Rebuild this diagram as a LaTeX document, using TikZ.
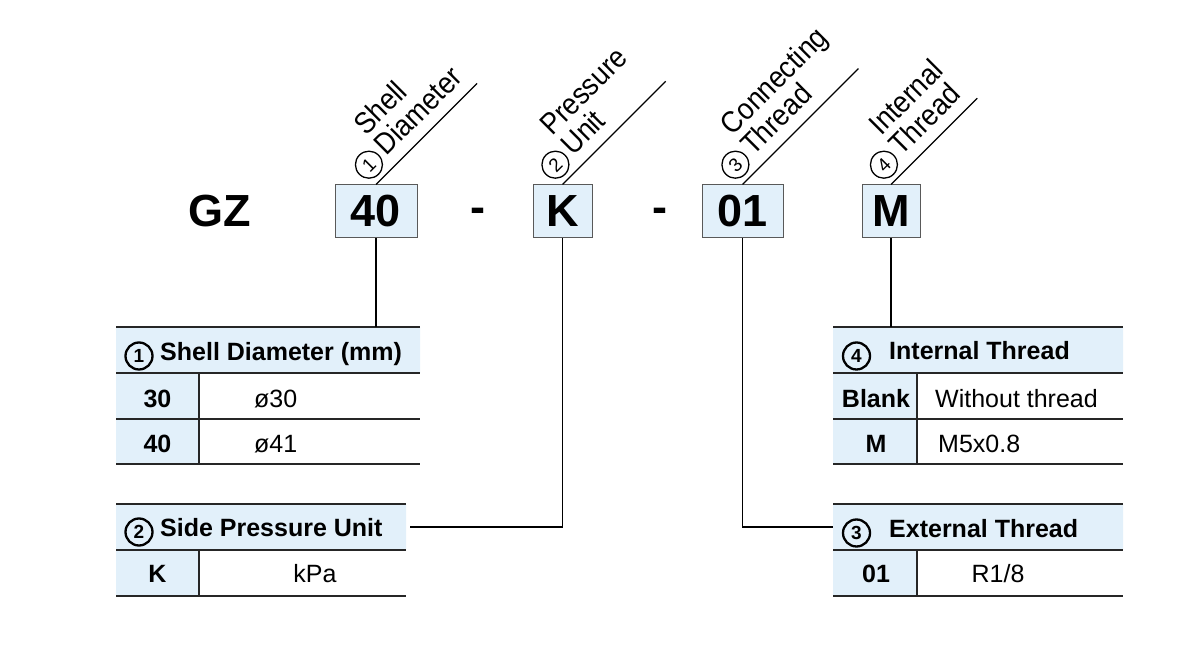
\documentclass[tikz,border=0pt]{standalone}
\usepackage{fontspec}
\setmainfont{Liberation Sans}
\newfontfamily\narrowfont[FakeStretch=0.9]{Liberation Sans}
\usetikzlibrary{positioning}
\definecolor{cellblue}{RGB}{226,240,250}

\begin{document}
\begin{tikzpicture}[x=1pt, y=1pt,
    code/.style={draw=black!65, fill=cellblue, line width=1pt, minimum height=53pt, inner sep=0pt, font=\fontsize{45}{45}\selectfont\bfseries},
    sep/.style={inner sep=0pt, font=\fontsize{45}{45}\selectfont\bfseries},
    lbl/.style={anchor=base west, inner sep=0pt, font=\narrowfont\fontsize{30}{30}\selectfont},
    cnum/.style={circle, draw, line width=1.3pt, minimum size=27pt, inner sep=0pt, font=\fontsize{19}{19}\selectfont},
    cnumb/.style={cnum, line width=2.3pt, font=\fontsize{19}{19}\selectfont\bfseries},
    lead/.style={line width=1.3pt},
    rule/.style={line width=1.5pt, black!85},
    head/.style={anchor=base west, inner sep=0pt, font=\fontsize{25}{25}\selectfont\bfseries},
    key/.style={anchor=base, inner sep=0pt, font=\fontsize{25}{25}\selectfont\bfseries},
    val/.style={anchor=base west, inner sep=0pt, font=\fontsize{25}{25}\selectfont}]

  \useasboundingbox (0,0) rectangle (1200,650);

  \node[sep] (gz) at (220,438.5) {GZ};
  \node[code, minimum width=82pt] (c40) at (376,438.5) {40};
  \node[sep] (s1) at (478,435) {-};
  \node[code, minimum width=59pt] (cK) at (562.5,438.5) {K};
  \node[sep] (s2) at (660,435) {-};
  \node[code, minimum width=81pt] (c01) at (742.5,438.5) {01};
  \node[code, minimum width=58pt] (cM) at (891,438.5) {M};

  \foreach \n/\l in {c40/143, cK/146, c01/164, cM/122}
    \draw[lead] (\n.north) -- ++(45:\l);

  \foreach \n/\d/\a/\b in {c40/1/Shell/Diameter, cK/2/Pressure/Unit, c01/3/Connecting/Thread, cM/4/Internal/Thread}
  {
    \begin{scope}[shift={(\n.north)}, rotate=45, transform shape]
      \node[cnum] (n\d) at (9,19) {\d};
      \node[lbl] (lb\d) at (27,12) {\b};
      \node[lbl] (la\d) at (27,41) {\a};
    \end{scope}
  }

  % shell diameter
  \fill[cellblue] (116,277) rectangle (420,323) (116,186) rectangle (199,277);
  \foreach \y in {323,277,231,186}
    \draw[rule] (116,\y) -- (420,\y);
  \draw[rule] (199,277) -- (199,186);
  \node[cnumb] (m1) at (139,294) {1};
  \node[head] (h1) at (160,289) {Shell Diameter (mm)};
  \node[key] (k30) at (157.5,242.5) {30};
  \node[val] (v30) at (254,242.5) {ø30};
  \node[key] (k40) at (157.5,197.5) {40};
  \node[val] (v41) at (254,197.5) {ø41};

  % side pressure unit
  \fill[cellblue] (116,100) rectangle (406,146) (116,54) rectangle (199,100);
  \foreach \y in {146,100,54}
    \draw[rule] (116,\y) -- (406,\y);
  \draw[rule] (199,100) -- (199,54);
  \node[cnumb] (m2) at (139,118) {2};
  \node[head] (h2) at (160,113) {Side Pressure Unit};
  \node[key] (kK) at (157.5,67) {K};
  \node[val, anchor=base] (vkPa) at (315,67) {kPa};

  % internal thread
  \fill[cellblue] (833,277) rectangle (1123,323) (833,186) rectangle (917,277);
  \foreach \y in {323,277,231,186}
    \draw[rule] (833,\y) -- (1123,\y);
  \draw[rule] (917,277) -- (917,186);
  \node[cnumb] (m4) at (856.5,294) {4};
  \node[head] (h4) at (889,290) {Internal Thread};
  \node[key] (kBlank) at (876,242.5) {Blank};
  \node[val] (vBlank) at (935,242.5) {Without thread};
  \node[key] (kM) at (876,197.5) {M};
  \node[val] (vM) at (938,197.5) {M5x0.8};

  % external thread
  \fill[cellblue] (833,100) rectangle (1123,146) (833,54) rectangle (917,100);
  \foreach \y in {146,100,54}
    \draw[rule] (833,\y) -- (1123,\y);
  \draw[rule] (917,100) -- (917,54);
  \node[cnumb] (m3) at (856.5,117) {3};
  \node[head] (h3) at (889,112.5) {External Thread};
  \node[key] (k01) at (876,67) {01};
  \node[val, anchor=base] (v01) at (998,67) {R1/8};

  \coordinate (t1) at (376,323);
  \coordinate (t2) at (410,123);
  \coordinate (t3) at (833,123);
  \coordinate (t4) at (891,323);
  \draw[lead] (c40) -- (t1);
  \draw[lead] (cK) |- (t2);
  \draw[lead] (c01) |- (t3);
  \draw[lead] (cM) -- (t4);

\end{tikzpicture}
\end{document}
